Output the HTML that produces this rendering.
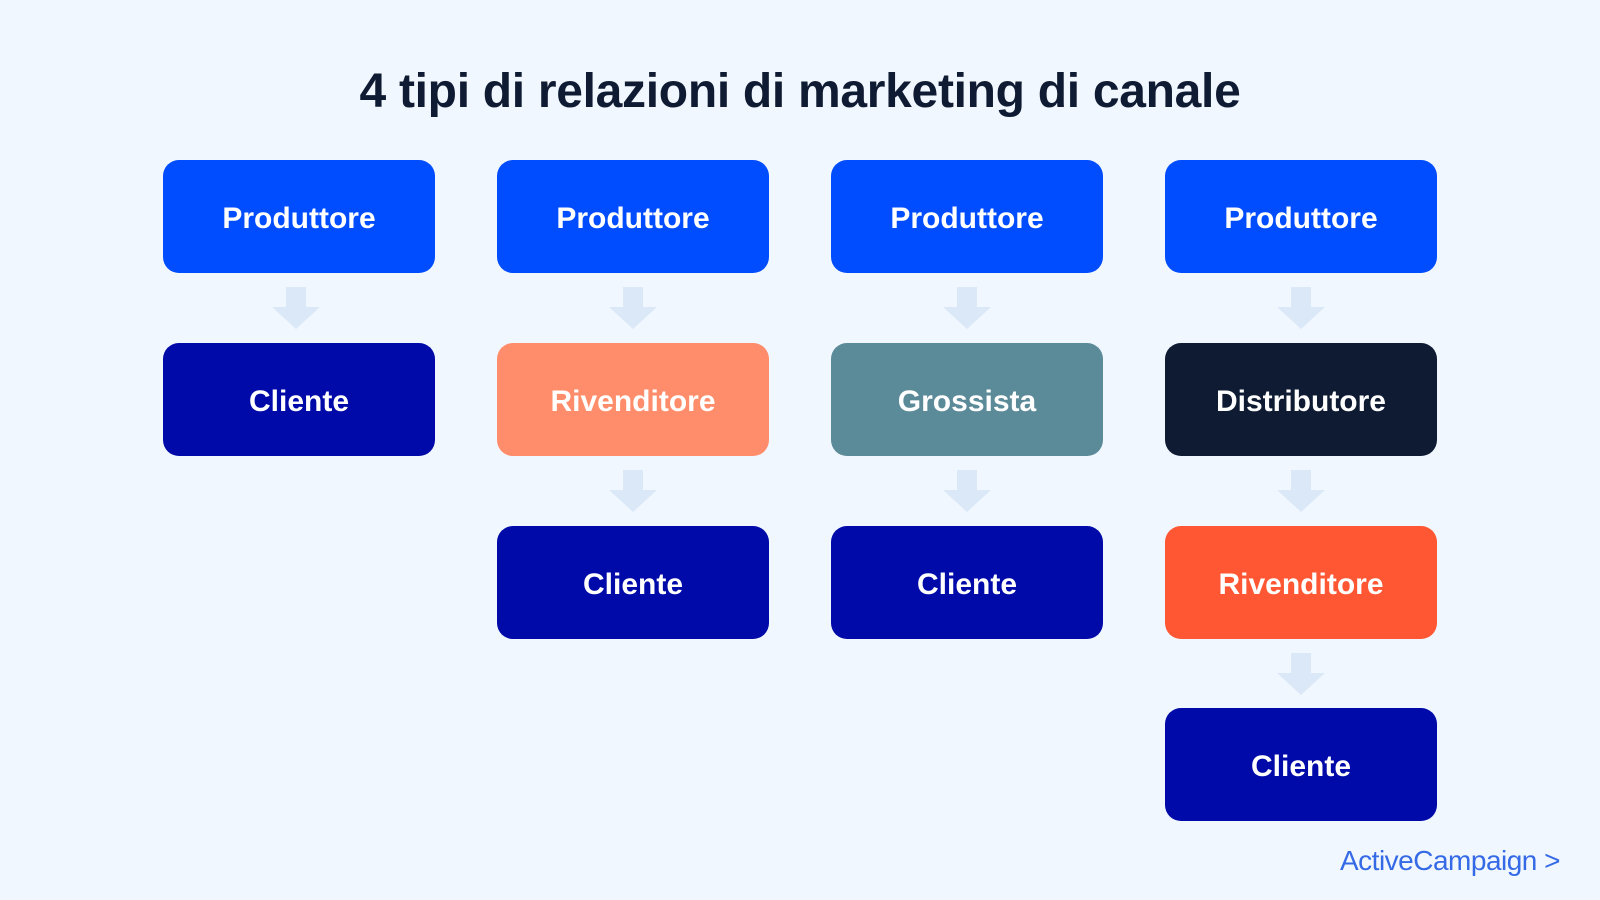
<!DOCTYPE html>
<html><head><meta charset="utf-8"><style>
html,body{margin:0;padding:0}
body{width:1600px;height:900px;background:#f1f7fe;position:relative;overflow:hidden;font-family:"Liberation Sans",sans-serif}
h1{position:absolute;top:64px;left:0;width:1600px;text-align:center;margin:0;font-size:48px;font-weight:bold;color:#0f1b33;letter-spacing:-0.3px}
.b{position:absolute;width:272px;height:113px;border-radius:16px;color:#fff;font-size:30px;font-weight:bold;display:flex;align-items:center;justify-content:center;padding-top:4px;box-sizing:border-box}
.p{background:#004cff}.c{background:#000aa8}.r1{background:#ff8c6a}.g{background:#5b8a98}.d{background:#0f1b33}.r2{background:#ff5733}
.a{position:absolute;width:48px;height:42px}
.logo{position:absolute;left:1340px;top:845px;font-size:28px;color:#356ae6;letter-spacing:-0.5px}
</style></head><body>
<h1>4 tipi di relazioni di marketing di canale</h1>
<div class="b p" style="left:163px;top:160px">Produttore</div>
<div class="b c" style="left:163px;top:343px">Cliente</div>
<div class="b p" style="left:497px;top:160px">Produttore</div>
<div class="b r1" style="left:497px;top:343px">Rivenditore</div>
<div class="b c" style="left:497px;top:526px">Cliente</div>
<div class="b p" style="left:831px;top:160px">Produttore</div>
<div class="b g" style="left:831px;top:343px">Grossista</div>
<div class="b c" style="left:831px;top:526px">Cliente</div>
<div class="b p" style="left:1165px;top:160px">Produttore</div>
<div class="b d" style="left:1165px;top:343px">Distributore</div>
<div class="b r2" style="left:1165px;top:526px">Rivenditore</div>
<div class="b c" style="left:1165px;top:708px">Cliente</div>
<svg width="0" height="0" style="position:absolute"><defs><g id="ar"><path d="M14 0h20v20h14L24 42 0 20h14z" fill="#dbe8f8"/></g></defs></svg>
<svg class="a" style="left:272px;top:287px"><use href="#ar"/></svg>
<svg class="a" style="left:609px;top:287px"><use href="#ar"/></svg>
<svg class="a" style="left:943px;top:287px"><use href="#ar"/></svg>
<svg class="a" style="left:1277px;top:287px"><use href="#ar"/></svg>
<svg class="a" style="left:609px;top:470px"><use href="#ar"/></svg>
<svg class="a" style="left:943px;top:470px"><use href="#ar"/></svg>
<svg class="a" style="left:1277px;top:470px"><use href="#ar"/></svg>
<svg class="a" style="left:1277px;top:653px"><use href="#ar"/></svg>
<div class="logo">ActiveCampaign &gt;</div>
</body></html>
